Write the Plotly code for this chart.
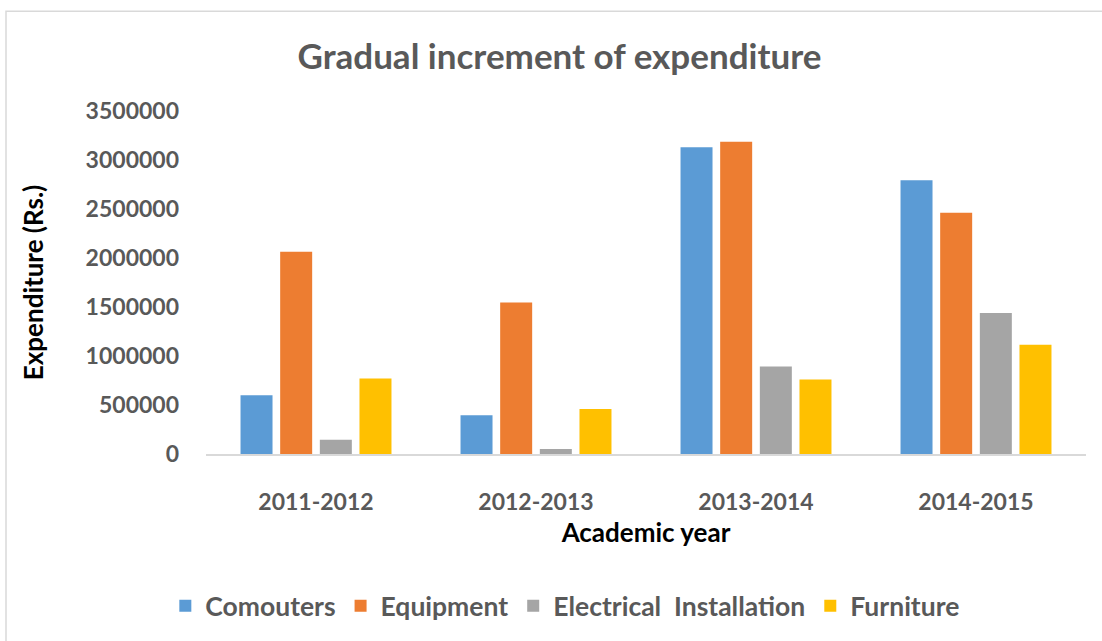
import plotly.graph_objects as go

years = ["2011-2012", "2012-2013", "2013-2014", "2014-2015"]
comouters = [600000, 395000, 3130000, 2793000]
equipment = [2065000, 1545000, 3185000, 2463000]
electrical = [145000, 50000, 893000, 1440000]
furniture = [770000, 460000, 760000, 1114000]

series_names = ["Comouters", "Equipment", "Electrical\u00a0 Installation", "Furniture"]
series_values = [comouters, equipment, electrical, furniture]
colors = ["#5B9BD5", "#ED7D31", "#A5A5A5", "#FFC000"]

FONT = "Lato"
TXT = "#595959"

fig = go.Figure()
for name, vals, col in zip(series_names, series_values, colors):
    fig.add_trace(go.Bar(x=years, y=vals, name=name, marker=dict(color=col, line=dict(width=0))))

fig.update_layout(
    width=1102, height=641,
    margin=dict(l=206, r=16, t=111, b=187, pad=0),
    paper_bgcolor="white", plot_bgcolor="white",
    barmode="group", bargap=0.279, bargroupgap=0.193,
    font=dict(family=FONT, color=TXT),
    title=dict(text="<b>Gradual increment of expenditure</b>", x=0.5077, xref="container",
               y=1 - 57 / 641, yref="container", xanchor="center", yanchor="middle",
               font=dict(family=FONT, size=35, color=TXT)),
    legend=dict(orientation="h", x=0.513, xref="container", xanchor="center",
                y=1 - 606 / 641, yref="container", yanchor="middle",
                font=dict(family=FONT, size=26.5, color=TXT, weight="bold"),
                itemwidth=30, tracegroupgap=0),
    showlegend=True,
)
fig.update_xaxes(
    showline=True, linecolor="#D9D9D9", linewidth=2, showgrid=False, ticks="",
    tickfont=dict(family=FONT, size=23, color=TXT, weight="bold"),
    ticklabelstandoff=26,
    title=dict(text="<b>Academic year</b>", font=dict(family=FONT, size=26, color="black"), standoff=10),
)
fig.update_yaxes(
    range=[0, 3500000], dtick=500000, showgrid=False, zeroline=False, showline=False, ticks="",
    tickformat="d",
    tickfont=dict(family=FONT, size=23, color=TXT, weight="bold"),
    ticklabelstandoff=26,
    title=dict(text="<b>Expenditure (Rs.)</b>", font=dict(family=FONT, size=26, color="black"), standoff=34),
)
fig.add_shape(type="rect", xref="paper", yref="paper",
              x0=(6 - 206) / 880, x1=(1110 - 206) / 880,
              y0=(454.5 - 660) / 343.5, y1=(454.5 - 11) / 343.5,
              line=dict(color="#D9D9D9", width=1.5), fillcolor="rgba(0,0,0,0)", layer="below")

fig.write_html("out.html", config={"displayModeBar": False},
               post_script="document.body.style.margin='0';")
